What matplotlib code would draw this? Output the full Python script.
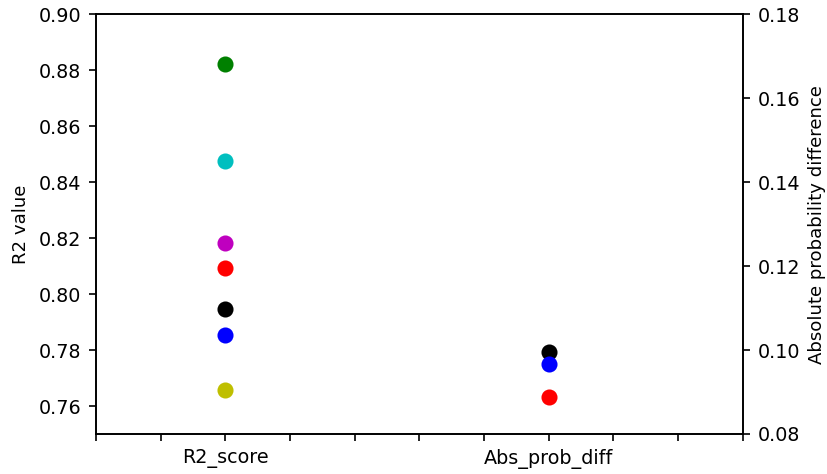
import matplotlib
matplotlib.use("Agg")
import matplotlib.pyplot as plt

categories = ["R2_score", "Abs_prob_diff"]
r2_values = [0.8821, 0.8475, 0.8182, 0.8093, 0.7946, 0.7854, 0.7657]
r2_colors = ["g", "c", "m", "r", "k", "b", "y"]
prob_values = [0.0995, 0.0967, 0.0888]
prob_colors = ["k", "b", "r"]

tick_positions = list(range(11))
cat_positions = [2, 7]

fs_tick = 9.2
fs_label = 8.7
fig = plt.figure(figsize=(5.52, 3.16), dpi=150)
ax = fig.add_axes([0.116, 0.0844, 0.781, 0.8856])
for v, c in zip(r2_values, r2_colors):
    ax.scatter([cat_positions[0]], [v], color=c, s=45, zorder=3)
ax.set_ylim(0.75, 0.90)
ax.set_yticks([0.76, 0.78, 0.80, 0.82, 0.84, 0.86, 0.88, 0.90])
ax.set_ylabel("R2 value", fontsize=fs_label)
ax.set_xlim(0, 10)
ax.set_xticks(tick_positions)
labels = [""] * len(tick_positions)
labels[cat_positions[0]] = categories[0]
labels[cat_positions[1]] = categories[1]
ax.set_xticklabels(labels)
ax.tick_params(labelsize=fs_tick)

ax2 = ax.twinx()
for v, c in zip(prob_values, prob_colors):
    ax2.scatter([cat_positions[1]], [v], color=c, s=45, zorder=3)
ax2.set_ylim(0.08, 0.18)
ax2.set_yticks([0.08, 0.10, 0.12, 0.14, 0.16, 0.18])
ax2.set_ylabel("Absolute probability difference", fontsize=fs_label)
ax2.tick_params(labelsize=fs_tick)

fig.savefig("out.png", dpi=150)
